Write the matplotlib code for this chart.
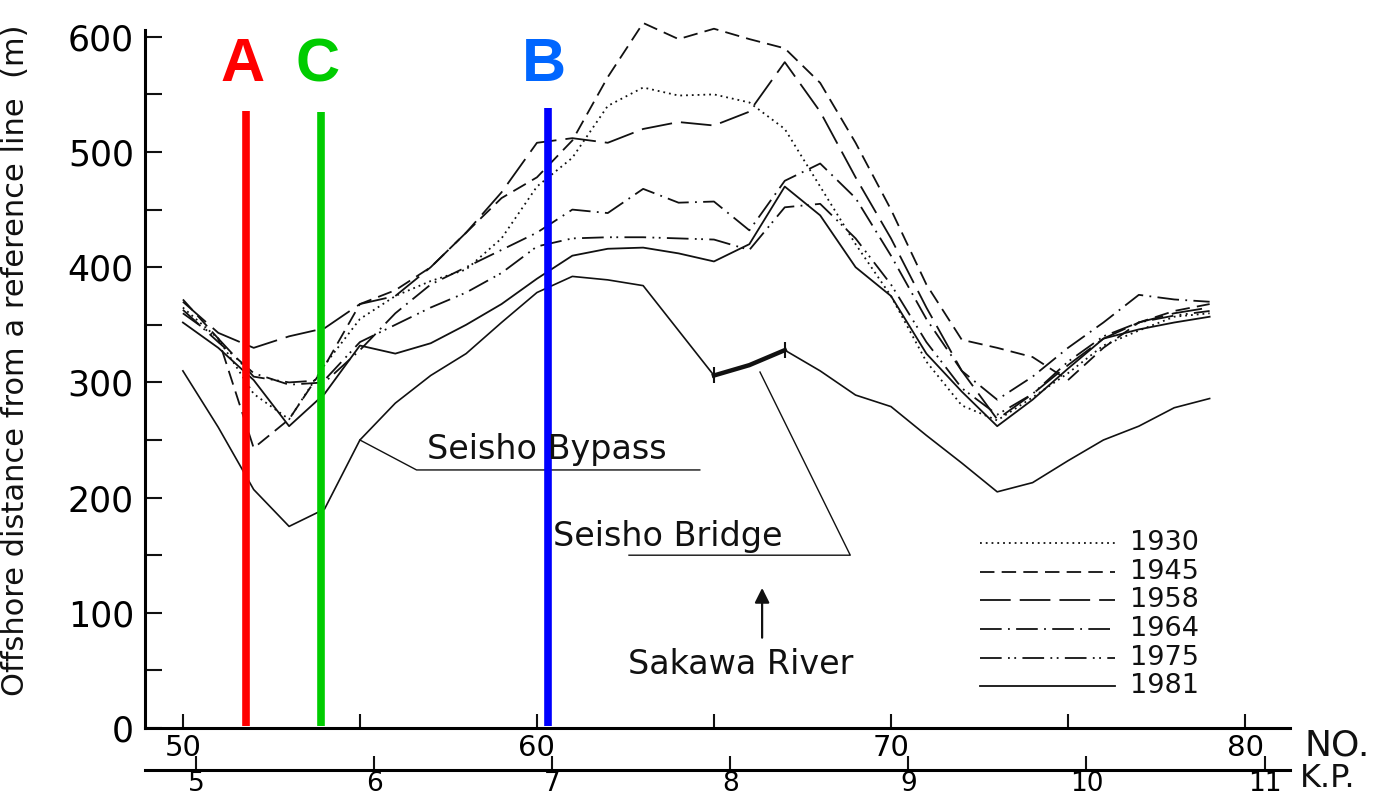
import numpy as np
import matplotlib
matplotlib.use('Agg')
import matplotlib.pyplot as plt

# survey line numbers along the coast
survey_no = np.arange(50, 80)

# offshore distance of the shoreline (m) for each survey year
y1930 = [365, 338, 290, 268, 315, 355, 375, 388, 398, 425, 470, 495, 540, 556, 549,
         550, 543, 520, 470, 420, 375, 318, 280, 267, 287, 308, 332, 345, 357, 360]
y1945 = [372, 338, 243, 268, 314, 368, 380, 400, 430, 460, 478, 510, 565, 612, 598,
         607, 598, 590, 560, 508, 450, 385, 337, 330, 322, 302, 330, 352, 362, 368]
y1958 = [370, 343, 330, 340, 347, 368, 375, 400, 430, 465, 508, 512, 508, 520, 526,
         523, 535, 578, 535, 478, 425, 365, 310, 268, 290, 315, 338, 352, 360, 365]
y1964 = [363, 335, 308, 298, 300, 328, 360, 385, 400, 415, 430, 450, 447, 468, 456,
         457, 432, 475, 490, 460, 410, 355, 310, 285, 305, 330, 352, 376, 372, 370]
y1975 = [360, 338, 305, 300, 302, 335, 350, 365, 378, 395, 418, 425, 426, 426, 425,
         424, 415, 452, 455, 425, 385, 335, 295, 272, 290, 318, 340, 352, 358, 362]
y1981 = [352, 330, 302, 262, 290, 332, 325, 334, 350, 368, 390, 410, 416, 417, 412,
         405, 420, 470, 445, 400, 375, 325, 292, 262, 285, 312, 338, 346, 352, 357]

# alignment of the Seisho Bypass (bridge between No.65 and No.67)
bypass = [310, 261, 207, 175, 190, 250, 282, 306, 325, 352, 378, 392, 389, 384, 345,
          306, 315, 328, 310, 289, 279, 254, 230, 205, 213, 232, 250, 262, 278, 286]

years = ['1930', '1945', '1958', '1964', '1975', '1981']
series = [y1930, y1945, y1958, y1964, y1975, y1981]
styles = [(0, (1, 2.2)),
          (0, (8, 4)),
          (0, (17, 5)),
          (0, (12, 3.5, 1, 3.5)),
          (0, (12, 3.5, 1, 2.5, 1, 3.5)),
          '-']

# km posts against survey numbers
kp_ticks = [5, 6, 7, 8, 9, 10, 11]


def no2kp(n):
    return 5 + (n - 50.37) / 5.03


def kp2no(k):
    return 50.37 + (k - 5) * 5.03


ink = '#111111'
fig = plt.figure(figsize=(13.89, 7.96), dpi=100)
ax = fig.add_axes([145 / 1389, 68 / 796, 1145 / 1389, 720 / 796])

for vals, ls in zip(series, styles):
    ax.plot(survey_no, vals, color=ink, lw=1.3, linestyle=ls)

ax.plot(survey_no, bypass, color=ink, lw=1.2)
# Seisho Bridge
ax.plot(survey_no[15:18], bypass[15:18], color=ink, lw=3.2)
ax.plot(survey_no[[15, 17]], [bypass[15], bypass[17]], ls='none', marker='|',
        ms=12, mew=1.5, color=ink)

# labels for the road and the bridge
kink_x, kink_y = survey_no[5], bypass[5]
ax.plot([kink_x, 56.6, 64.6], [kink_y, 224, 224], color=ink, lw=1)
ax.text(56.9, 227, 'Seisho Bypass', fontsize=24, color=ink, va='bottom')

mid_x, mid_y = survey_no[16], bypass[16]
ax.plot([mid_x + 0.3, 68.85, 62.6], [mid_y - 6, 150, 150], color=ink, lw=1)
ax.text(60.45, 152, 'Seisho Bridge', fontsize=24, color=ink, va='bottom')

ax.annotate('', xy=(66.36, 124), xytext=(66.36, 76),
            arrowprops=dict(arrowstyle='-|>', color=ink, lw=1.6, mutation_scale=22))
ax.text(65.75, 55, 'Sakawa River', fontsize=24, color=ink, ha='center', va='center')

# legend
ax_y = [0.257, 0.217, 0.178, 0.138, 0.097, 0.058]
for yr, ls, yy in zip(years, styles, ax_y):
    ax.plot([0.729, 0.847], [yy, yy], transform=ax.transAxes, color=ink,
            lw=1.3, linestyle=ls)
    ax.text(0.860, yy, yr, transform=ax.transAxes, fontsize=19.5, color=ink,
            va='center')

# cross-section markers
marks = [('A', 51.78, 536, '#ff0000', '#ff0000'),
         ('C', 53.90, 535, '#00cc00', '#00cc00'),
         ('B', 60.31, 538, '#0000ff', '#0066ff')]
for name, xm, top, lc, tc in marks:
    ax.vlines(xm, 2, top, color=lc, lw=5.5)
    ax.text(xm - 0.1, 575, name, color=tc, fontsize=44, fontweight='bold',
            family='Liberation Sans', ha='center', va='center')

ax.set_xlim(48.93, 81.27)
ax.set_ylim(0, 625)
ax.spines['top'].set_visible(False)
ax.spines['right'].set_visible(False)
ax.spines['left'].set_bounds(0, 606)
ax.spines['left'].set_linewidth(2.2)
ax.spines['bottom'].set_linewidth(2.2)

ax.set_xticks([50, 60, 70, 80])
ax.set_xticks([55, 65, 75], minor=True)
ax.set_yticks(np.arange(0, 601, 100))
ax.set_yticks(np.arange(50, 600, 100), minor=True)
ax.tick_params(axis='both', which='both', direction='in', color=ink, width=1.5)
ax.tick_params(axis='x', which='both', length=10, labelsize=21, pad=4)
ax.tick_params(axis='y', which='both', length=12, labelsize=25, pad=8)

ax.set_ylabel('Offshore distance from a reference line  (m)', fontsize=22,
              color=ink)
ax.yaxis.set_label_coords(-0.100, 0.511)

ax.text(1.013, -0.024, 'NO.', transform=ax.transAxes, fontsize=26, color=ink,
        va='center')
ax.text(1.0087, -0.070, 'K.P.', transform=ax.transAxes, fontsize=23, color=ink,
        va='center')

kp = ax.secondary_xaxis(-0.058, functions=(no2kp, kp2no))
kp.set_xticks(kp_ticks)
kp.spines['bottom'].set_linewidth(2.2)
kp.tick_params(direction='in', length=10, width=1.5, labelsize=19, pad=1, color=ink)

fig.savefig('out.png', dpi=100, facecolor='white')
